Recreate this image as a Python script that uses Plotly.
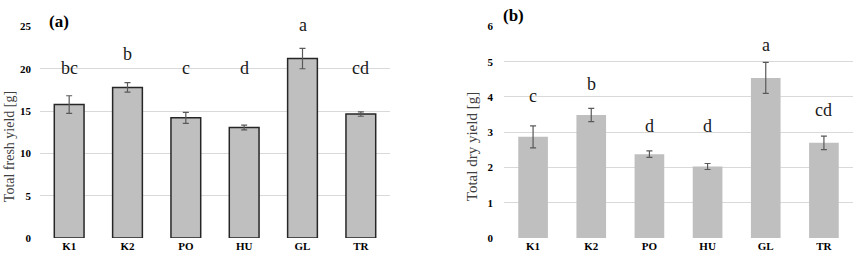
import plotly.graph_objects as go

categories = ["K1", "K2", "PO", "HU", "GL", "TR"]

fresh_yield = [15.77, 17.8, 14.2, 13.06, 21.2, 14.65]
fresh_err = [1.04, 0.56, 0.64, 0.28, 1.2, 0.26]
fresh_letters = ["bc", "b", "c", "d", "a", "cd"]
fresh_letter_y = [20.1, 21.75, 20.1, 20.1, 25.15, 20.1]

dry_yield = [2.87, 3.49, 2.38, 2.03, 4.54, 2.70]
dry_err = [0.31, 0.19, 0.09, 0.085, 0.44, 0.19]
dry_letters = ["c", "b", "d", "d", "a", "cd"]
dry_letter_y = [4.02, 4.38, 3.18, 3.18, 5.48, 3.63]

W, H = 858, 261
SERIF = "Liberation Serif"
Y_TOP_PX, Y_BOT_PX = 21.4, 243.3
Y_MAX_A, Y_MAX_B = 25, 6


def data_to_paper(v, vmax):
    # position along the shared vertical domain, in paper units
    bot = (H - Y_BOT_PX) / H
    top = (H - Y_TOP_PX) / H
    return bot + (top - bot) * v / vmax


fig = go.Figure()

fig.add_trace(go.Bar(
    x=categories, y=fresh_yield, xaxis="x", yaxis="y",
    marker=dict(color="#bfbfbf", line=dict(color="#262626", width=1.5)),
    error_y=dict(type="data", array=fresh_err, color="#595959", thickness=1.2, width=3),
    showlegend=False,
))
fig.add_trace(go.Bar(
    x=categories, y=dry_yield, xaxis="x2", yaxis="y2",
    marker=dict(color="#bfbfbf", line=dict(width=0)),
    error_y=dict(type="data", array=dry_err, color="#595959", thickness=1.2, width=3),
    showlegend=False,
))

annotations = []
for c, t, yv in zip(categories, fresh_letters, fresh_letter_y):
    annotations.append(dict(x=c, y=data_to_paper(yv, Y_MAX_A), xref="x", yref="paper", text=t,
                            showarrow=False, yanchor="middle",
                            font=dict(family=SERIF, size=18, color="#1a1a1a")))
for c, t, yv in zip(categories, dry_letters, dry_letter_y):
    annotations.append(dict(x=c, y=data_to_paper(yv, Y_MAX_B), xref="x2", yref="paper", text=t,
                            showarrow=False, yanchor="middle",
                            font=dict(family=SERIF, size=18, color="#1a1a1a")))

# panel labels
annotations.append(dict(x=47 / W, y=1 - 16 / H, xref="paper", yref="paper", text="<b>(a)</b>",
                        showarrow=False, xanchor="left", yanchor="middle",
                        font=dict(family=SERIF, size=17, color="#000")))
annotations.append(dict(x=501 / W, y=1 - 10 / H, xref="paper", yref="paper", text="<b>(b)</b>",
                        showarrow=False, xanchor="left", yanchor="middle",
                        font=dict(family=SERIF, size=17, color="#000")))
# y-axis titles
annotations.append(dict(x=9 / W, y=1 - 148 / H, xref="paper", yref="paper", text="Total fresh yield [g]",
                        showarrow=False, textangle=-90, xanchor="center", yanchor="middle",
                        font=dict(family=SERIF, size=14, color="#404040")))
annotations.append(dict(x=472 / W, y=1 - 148 / H, xref="paper", yref="paper", text="Total dry yield [g]",
                        showarrow=False, textangle=-90, xanchor="center", yanchor="middle",
                        font=dict(family=SERIF, size=15, color="#404040")))

ydom = [(H - Y_BOT_PX) / H, (H - Y_TOP_PX) / H]
tickfont = dict(family=SERIF, size=11, color="#000", weight="bold")
xaxis_common = dict(showgrid=False, showline=False, zeroline=False, ticks="", tickfont=tickfont)

fig.update_layout(
    width=W, height=H,
    margin=dict(l=0, r=0, t=0, b=0),
    paper_bgcolor="white", plot_bgcolor="white",
    bargap=0.49,
    xaxis=dict(domain=[40 / W, 390 / W], anchor="y", **xaxis_common),
    yaxis=dict(domain=ydom, anchor="x", range=[0, Y_MAX_A], dtick=5, tickformat="d",
               showgrid=True, gridcolor="#d9d9d9", gridwidth=1, zeroline=False, showline=False,
               tickfont=tickfont, ticklabelstandoff=8),
    xaxis2=dict(domain=[504 / W, 853 / W], anchor="y2", **xaxis_common),
    yaxis2=dict(domain=ydom, anchor="x2", range=[0, Y_MAX_B], dtick=1,
                showgrid=True, gridcolor="#d9d9d9", gridwidth=1, zeroline=False, showline=False,
                tickfont=tickfont, ticklabelstandoff=10),
    annotations=annotations,
)

post = (
    "var s=document.createElement('style');"
    "s.textContent='html,body{margin:0;padding:0;overflow:hidden;width:858px;height:261px;}"
    "body>div{margin:0;padding:0;height:261px;line-height:0;overflow:hidden;}';"
    "document.head.appendChild(s);"
)

fig.write_html("out.html", config={"displayModeBar": False}, post_script=post)
